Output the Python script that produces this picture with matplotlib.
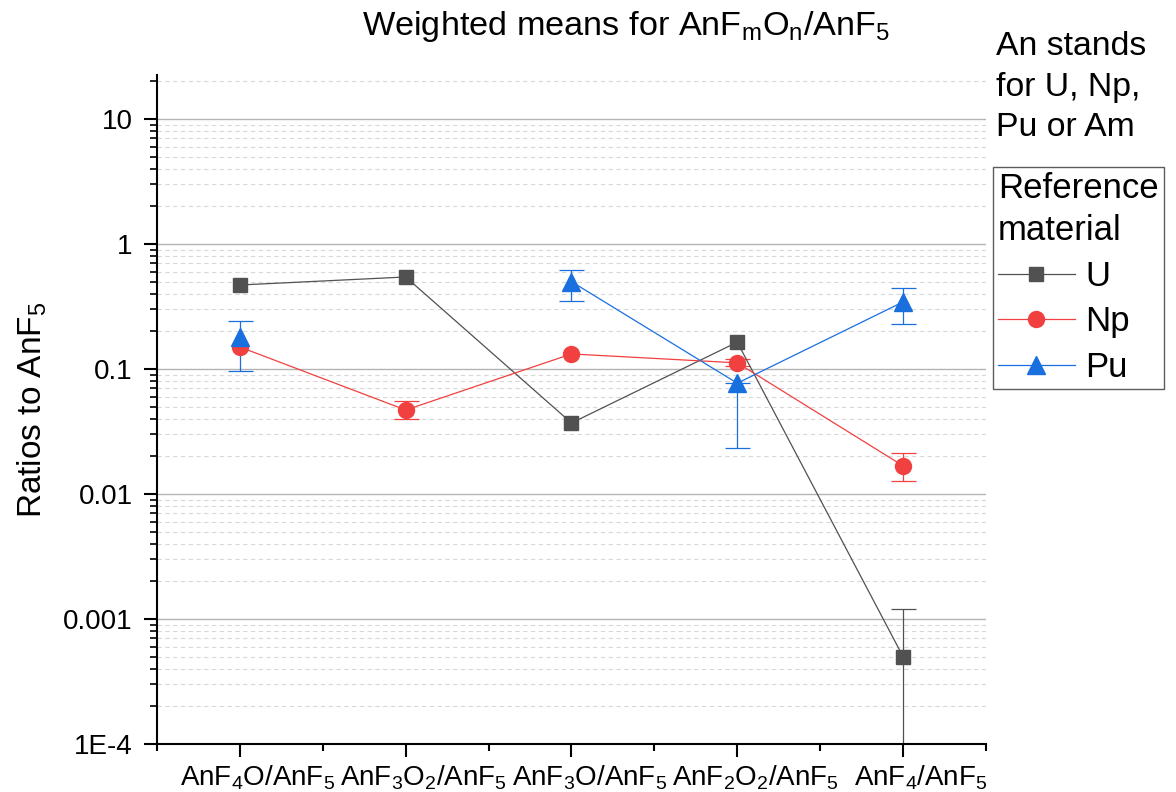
import numpy as np
import matplotlib
matplotlib.use('Agg')
import matplotlib.pyplot as plt
from matplotlib.ticker import LogLocator, FixedLocator, NullFormatter, FixedFormatter
from matplotlib.lines import Line2D
from matplotlib.transforms import ScaledTranslation

plt.rcParams['font.family'] = ['Liberation Sans', 'DejaVu Sans']
plt.rcParams['mathtext.fontset'] = 'custom'
plt.rcParams['mathtext.rm'] = 'Liberation Sans'
plt.rcParams['mathtext.it'] = 'Liberation Sans'

categories = [r'AnF$_4$O/AnF$_5$', r'AnF$_3$O$_2$/AnF$_5$', r'AnF$_3$O/AnF$_5$',
              r'AnF$_2$O$_2$/AnF$_5$', r'AnF$_4$/AnF$_5$']

# weighted means and error bar bounds (nan = no visible bar)
u_vals = [0.47, 0.545, 0.037, 0.164, 0.0005]
u_lo = [np.nan, np.nan, np.nan, np.nan, 0.00005]
u_hi = [np.nan, np.nan, np.nan, np.nan, 0.0012]

np_vals = [0.15, 0.047, 0.132, 0.112, 0.0168]
np_lo = [np.nan, 0.040, np.nan, 0.105, 0.0127]
np_hi = [np.nan, 0.055, np.nan, 0.12, 0.0213]

pu_vals = [0.179, np.nan, 0.50, 0.077, 0.344]
pu_lo = [0.0963, np.nan, 0.35, 0.0233, 0.229]
pu_hi = [0.242, np.nan, 0.62, 0.077, 0.445]

series = [
    ('U', u_vals, u_lo, u_hi, '#515151', 's', 10.5),
    ('Np', np_vals, np_lo, np_hi, '#F14040', 'o', 11.5),
    ('Pu', pu_vals, pu_lo, pu_hi, '#1A6FDF', '^', 13),
]

fig = plt.figure(figsize=(11.76, 7.92), dpi=100)
ax = fig.add_axes([0.1335, 0.0606, 0.8384 - 0.1335, 0.9053 - 0.0606])
x = np.arange(1, len(categories) + 1)

handles = []
for name, vals, lo, hi, c, m, ms in series:
    vals = np.array(vals, dtype=float)
    err = np.vstack([vals - np.array(lo), np.array(hi) - vals])
    ax.errorbar(x, vals, yerr=err, fmt='none', ecolor=c, elinewidth=0.9,
                capsize=9, capthick=0.9, zorder=2)
    ax.plot(x, vals, color=c, lw=0.9, marker=m, ms=ms, mec=c, mfc=c, zorder=3)
    handles.append(Line2D([], [], color=c, lw=0.9, marker=m, ms=ms, mec=c, mfc=c))

ax.set_yscale('log')
ax.set_ylim(1e-4, 22.5)
ax.set_xlim(0.5, 5.5)

ax.yaxis.set_major_locator(FixedLocator([1e-4, 1e-3, 1e-2, 1e-1, 1, 10]))
ax.yaxis.set_major_formatter(FixedFormatter(['1E-4', '0.001', '0.01', '0.1', '1', '10']))
ax.yaxis.set_minor_locator(LogLocator(base=10, subs=np.arange(2, 10), numticks=20))
ax.yaxis.set_minor_formatter(NullFormatter())

ax.xaxis.set_major_locator(FixedLocator(x))
ax.set_xticklabels(categories)
ax.xaxis.set_minor_locator(FixedLocator(np.arange(0.5, 6, 1.0)))

ax.tick_params(axis='y', which='major', direction='out', length=9.5, width=1.5,
               labelsize=20, pad=8)
ax.tick_params(axis='y', which='minor', direction='out', length=5, width=1.2)
ax.tick_params(axis='x', which='major', direction='out', length=9, width=1.5,
               labelsize=20, pad=5)
ax.tick_params(axis='x', which='minor', direction='out', length=5, width=1.5)

# category labels sit a little right of their ticks in the original
shift = ScaledTranslation(18 / 100, 0, fig.dpi_scale_trans)
for lab in ax.get_xticklabels():
    lab.set_transform(lab.get_transform() + shift)

ax.grid(True, which='major', axis='y', color='#b4b4b4', lw=1.0, ls='-', zorder=0)
ax.grid(True, which='minor', axis='y', color='#d8d8d8', lw=0.8, ls=(0, (4, 3)), zorder=0)
ax.set_axisbelow(True)

for s in ('top', 'right'):
    ax.spines[s].set_visible(False)
for s in ('left', 'bottom'):
    ax.spines[s].set_linewidth(1.5)

ax.set_ylabel(r'Ratios to AnF$_5$', fontsize=24, labelpad=10)

fig.text(626 / 1176, 1 - 27 / 792, r'Weighted means for AnF$_m$O$_n$/AnF$_5$',
         fontsize=24.7, ha='center', va='center')
fig.text(996 / 1176, 1 - 31 / 792, 'An stands\nfor U, Np,\nPu or Am',
         fontsize=24.3, ha='left', va='top', linespacing=1.4)

leg = fig.legend(handles, ['U', 'Np', 'Pu'], title='Reference\nmaterial',
                 loc='upper left', bbox_to_anchor=(993 / 1176, 1 - 167 / 792),
                 fontsize=25, title_fontsize=25, frameon=True, fancybox=False,
                 edgecolor='#333333', borderpad=0.15, handlelength=2.2,
                 handletextpad=0.3, labelspacing=0.36, borderaxespad=0,
                 alignment='left')
leg.get_title().set_linespacing(1.35)
leg.get_frame().set_linewidth(1.0)

fig.savefig('out.png', dpi=100)
